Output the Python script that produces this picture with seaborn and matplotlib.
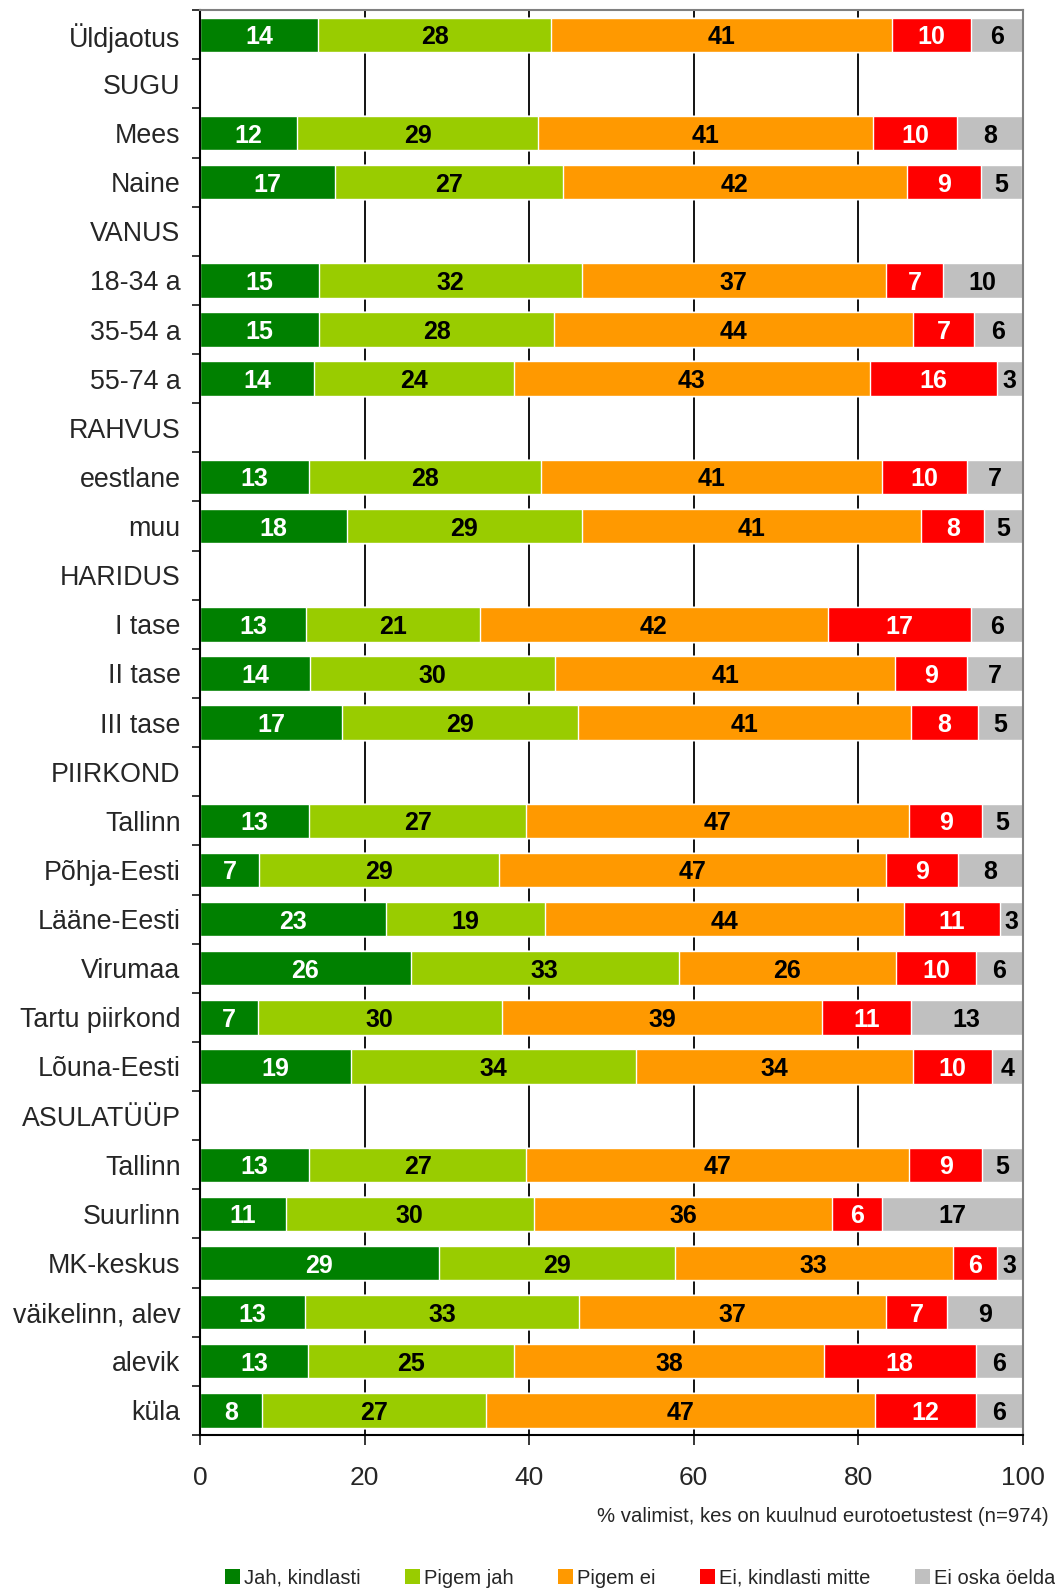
import numpy as np
import pandas as pd
import seaborn as sns
import matplotlib.pyplot as plt
from matplotlib.patches import Patch

categories = ["Üldjaotus", "SUGU", "Mees", "Naine", "VANUS", "18-34 a", "35-54 a", "55-74 a",
              "RAHVUS", "eestlane", "muu", "HARIDUS", "I tase", "II tase", "III tase",
              "PIIRKOND", "Tallinn", "Põhja-Eesti", "Lääne-Eesti", "Virumaa", "Tartu piirkond",
              "Lõuna-Eesti", "ASULATÜÜP", "Tallinn", "Suurlinn", "MK-keskus", "väikelinn, alev",
              "alevik", "küla"]
series_names = ["Jah, kindlasti", "Pigem jah", "Pigem ei", "Ei, kindlasti mitte", "Ei oska öelda"]
colors = ["#008000", "#99CC00", "#FF9900", "#FF0000", "#C0C0C0"]
text_colors = ["white", "black", "black", "white", "black"]

nan = np.nan
# segment widths (headers have no bars)
jah = [14.4, nan, 11.8, 16.4, nan, 14.5, 14.5, 13.9, nan, 13.3, 17.9, nan, 12.9, 13.4, 17.3,
       nan, 13.3, 7.2, 22.6, 25.6, 7.0, 18.4, nan, 13.3, 10.4, 29.0, 12.8, 13.1, 7.5]
pigem_jah = [28.3, nan, 29.3, 27.7, nan, 31.9, 28.5, 24.3, nan, 28.1, 28.5, nan, 21.1, 29.8, 28.6,
             nan, 26.3, 29.1, 19.3, 32.6, 29.7, 34.6, nan, 26.3, 30.2, 28.7, 33.3, 25.1, 27.3]
pigem_ei = [41.4, nan, 40.7, 41.8, nan, 37.0, 43.7, 43.2, nan, 41.5, 41.3, nan, 42.3, 41.3, 40.5,
            nan, 46.6, 47.1, 43.7, 26.4, 38.9, 33.7, nan, 46.6, 36.2, 33.8, 37.3, 37.6, 47.2]
ei = [9.6, nan, 10.2, 9.1, nan, 6.9, 7.4, 15.5, nan, 10.3, 7.6, nan, 17.4, 8.7, 8.2,
      nan, 8.9, 8.8, 11.6, 9.7, 10.8, 9.6, nan, 8.9, 6.1, 5.4, 7.4, 18.5, 12.3]
ei_oska = [6.3, nan, 8.0, 4.9, nan, 9.7, 5.9, 3.1, nan, 6.8, 4.7, nan, 6.3, 6.8, 5.4,
           nan, 4.9, 7.8, 2.8, 5.7, 13.6, 3.7, nan, 4.9, 17.1, 3.1, 9.2, 5.7, 5.7]

# printed labels
lab_jah = [14, 0, 12, 17, 0, 15, 15, 14, 0, 13, 18, 0, 13, 14, 17, 0, 13, 7, 23, 26, 7, 19, 0, 13, 11, 29, 13, 13, 8]
lab_pjah = [28, 0, 29, 27, 0, 32, 28, 24, 0, 28, 29, 0, 21, 30, 29, 0, 27, 29, 19, 33, 30, 34, 0, 27, 30, 29, 33, 25, 27]
lab_pei = [41, 0, 41, 42, 0, 37, 44, 43, 0, 41, 41, 0, 42, 41, 41, 0, 47, 47, 44, 26, 39, 34, 0, 47, 36, 33, 37, 38, 47]
lab_ei = [10, 0, 10, 9, 0, 7, 7, 16, 0, 10, 8, 0, 17, 9, 8, 0, 9, 9, 11, 10, 11, 10, 0, 9, 6, 6, 7, 18, 12]
lab_eos = [6, 0, 8, 5, 0, 10, 6, 3, 0, 7, 5, 0, 6, 7, 5, 0, 5, 8, 3, 6, 13, 4, 0, 5, 17, 3, 9, 6, 6]

vals = np.array([jah, pigem_jah, pigem_ei, ei, ei_oska])
labels = np.array([lab_jah, lab_pjah, lab_pei, lab_ei, lab_eos])
cum = np.cumsum(vals, axis=0)

# unique row keys (Tallinn appears twice)
keys = [f"{i:02d}" for i in range(len(categories))]

rows = []
for s, name in enumerate(series_names):
    for i, k in enumerate(keys):
        rows.append({"key": k, "series": name, "end": cum[s, i]})
df = pd.DataFrame(rows)

sns.set_style("white")
plt.rcParams['font.family'] = ['Liberation Sans', 'DejaVu Sans']

fig = plt.figure(figsize=(10.55, 15.9), dpi=100)
ax = fig.add_axes([0.1896, 0.0975, 0.7797, 0.8961])

for x in [20, 40, 60, 80]:
    ax.axvline(x, color="black", lw=1.3, zorder=0)

# stacked bars: draw cumulative totals from the last series back to the first
for s in range(len(series_names) - 1, -1, -1):
    sub = df[df["series"] == series_names[s]]
    sns.barplot(data=sub, x="end", y="key", order=keys, orient="h",
                color=colors[s], width=0.7, saturation=1, ax=ax, zorder=2, errorbar=None)

for s in range(len(series_names)):
    for i in range(len(categories)):
        v = vals[s, i]
        if np.isnan(v):
            continue
        c = cum[s, i] - v / 2
        ax.text(c, i, str(labels[s, i]), ha="center", va="center_baseline", fontsize=18,
                fontweight="bold", color=text_colors[s], zorder=3)

ax.set_xlim(0, 100)
ax.set_ylim(len(categories) - 0.5, -0.5)
ax.set_yticks(range(len(categories)))
ax.set_yticklabels(categories)
ax.set_xticks([0, 20, 40, 60, 80, 100])
ax.set_xlabel("")
ax.set_ylabel("")
ax.tick_params(axis="x", length=7, width=1.3, direction="out", pad=15, labelsize=19, bottom=True)
ax.tick_params(axis="y", which="major", length=0, pad=14, labelsize=19.3, left=True)
ax.set_yticks(np.arange(-0.5, len(categories), 1), minor=True)
ax.tick_params(axis="y", which="minor", length=6, width=1.3, direction="out", left=True)

for side in ["left", "bottom"]:
    ax.spines[side].set_color("black")
    ax.spines[side].set_linewidth(1.5)
for side in ["top", "right"]:
    ax.spines[side].set_color("#808080")
    ax.spines[side].set_linewidth(1.5)

fig.text(0.994, 1 - 1517 / 1590, "% valimist, kes on kuulnud eurotoetustest (n=974)",
         ha="right", va="center", fontsize=14.7)

handles = [Patch(facecolor=c, edgecolor="none") for c in colors]
fig.legend(handles, series_names, loc="center", bbox_to_anchor=(0.607, 1 - 1578 / 1590),
           ncol=5, frameon=False, fontsize=14.5, handlelength=0.75, handleheight=0.75,
           handletextpad=0.2, columnspacing=2.2)

fig.savefig("out.png", dpi=100)
